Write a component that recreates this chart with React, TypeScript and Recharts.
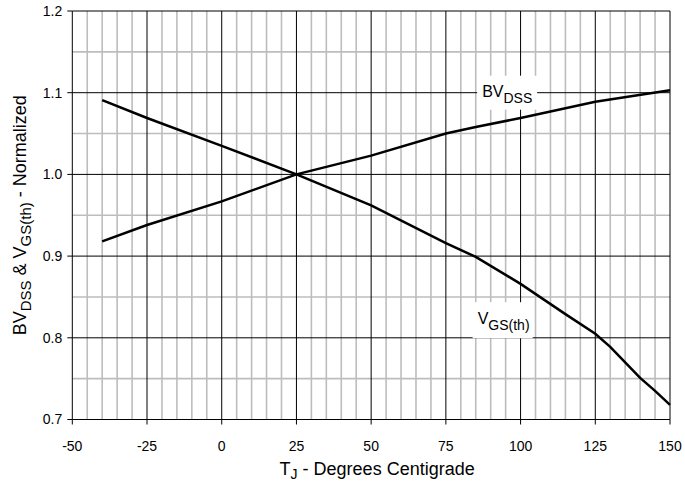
import React from "react";
import {
  LineChart,
  Line,
  XAxis,
  YAxis,
  ReferenceLine,
  ReferenceDot,
  Label,
} from "recharts";

// Normalized breakdown voltage vs junction temperature (°C)
const bvTemps = [-40, -25, 0, 25, 50, 75, 85, 100, 125, 150];
const bvdss = [0.918, 0.938, 0.967, 1.0, 1.023, 1.05, 1.058, 1.069, 1.089, 1.103];
// Normalized gate threshold voltage vs junction temperature (°C)
const vgTemps = [-40, -25, 0, 25, 50, 75, 85, 100, 115, 125, 130, 135, 140, 145, 150];
const vgsth = [1.091, 1.069, 1.035, 1.0, 0.962, 0.916, 0.899, 0.866, 0.829, 0.805, 0.789, 0.77, 0.751, 0.735, 0.718];

const xTicks = [-50, -25, 0, 25, 50, 75, 100, 125, 150];
const yTicks = [0.7, 0.8, 0.9, 1.0, 1.1, 1.2];
const xMinor = [-45, -40, -35, -30, -20, -15, -10, -5, 5, 10, 15, 20, 30, 35, 40, 45, 55, 60, 65, 70, 80, 85, 90, 95, 105, 110, 115, 120, 130, 135, 140, 145];
const yMinor = [0.75, 0.85, 0.95, 1.05, 1.15];
const xMajor = [-25, 0, 25, 50, 75, 100, 125];
const yMajor = [0.8, 0.9, 1.0, 1.1];

const bvData = bvTemps.map((t, i) => ({ t, v: bvdss[i] }));
const vgData = vgTemps.map((t, i) => ({ t, v: vgsth[i] }));

const FONT = "'Liberation Sans', Arial, sans-serif";

// white-backed curve label with a subscript
const tag = (main: string, sub: string, w: number, h: number) => (props: any) => {
  const { cx, cy } = props;
  return (
    <g>
      <rect x={cx - w / 2} y={cy - h / 2} width={w} height={h} fill="#fff" />
      <text x={cx - w / 2 + 5} y={cy + 4} fontFamily={FONT} fontSize={16} fill="#000">
        {main}
        <tspan fontSize={14} dy={6}>{sub}</tspan>
      </text>
    </g>
  );
};

const YTitle = (props: any) => {
  const { viewBox } = props;
  const cy = viewBox.y + viewBox.height / 2;
  return (
    <text
      x={26}
      y={cy}
      transform={`rotate(-90, 26, ${cy})`}
      textAnchor="middle"
      fontFamily={FONT}
      fontSize={18}
      fill="#000"
    >
      BV<tspan fontSize={15} dy={5}>DSS</tspan>
      <tspan dy={-5}> &amp; V</tspan>
      <tspan fontSize={15} dy={5}>GS(th)</tspan>
      <tspan dy={-5}> - Normalized</tspan>
    </text>
  );
};

const XTitle = (props: any) => {
  const { viewBox } = props;
  const cx = viewBox.x + viewBox.width / 2 + 6;
  return (
    <text x={cx} y={475} textAnchor="middle" fontFamily={FONT} fontSize={18} fill="#000">
      T<tspan fontSize={14} dy={4}>J</tspan>
      <tspan dy={-4}> - Degrees Centigrade</tspan>
    </text>
  );
};

export default function App() {
  return (
    <div style={{ position: "absolute", left: 0, top: 0, background: "#fff" }}>
      <LineChart
        width={685}
        height={484}
        margin={{ top: 11, right: 15, bottom: 0, left: 0 }}
      >
        <XAxis
          type="number"
          dataKey="t"
          domain={[-50, 150]}
          ticks={xTicks}
          interval={0}
          height={64.5}
          stroke="#000"
          tickSize={5}
          tickMargin={17}
          tick={{ fill: "#000", fontSize: 14, fontFamily: FONT }}
          allowDuplicatedCategory={false}
        >
          <Label content={<XTitle />} />
        </XAxis>
        <YAxis
          type="number"
          domain={[0.7, 1.2]}
          ticks={yTicks}
          interval={0}
          width={72.3}
          stroke="#000"
          tickSize={5}
          tickMargin={5}
          tickFormatter={(v: number) => v.toFixed(1)}
          tick={{ fill: "#000", fontSize: 14, fontFamily: FONT }}
        >
          <Label content={<YTitle />} />
        </YAxis>

        {xMinor.map((v) => (
          <ReferenceLine key={`xm${v}`} x={v} stroke="#bdbdbd" strokeWidth={1.6} />
        ))}
        {yMinor.map((v) => (
          <ReferenceLine key={`ym${v}`} y={v} stroke="#bdbdbd" strokeWidth={1.6} />
        ))}
        {xMajor.map((v) => (
          <ReferenceLine key={`xM${v}`} x={v} stroke="#000" strokeWidth={1} />
        ))}
        {yMajor.map((v) => (
          <ReferenceLine key={`yM${v}`} y={v} stroke="#000" strokeWidth={1} />
        ))}
        <ReferenceLine x={150} stroke="#000" strokeWidth={1} />
        <ReferenceLine y={1.2} stroke="#000" strokeWidth={1} />

        <Line
          data={bvData}
          dataKey="v"
          type="linear"
          stroke="#000"
          strokeWidth={2.5}
          dot={false}
          isAnimationActive={false}
        />
        <Line
          data={vgData}
          dataKey="v"
          type="linear"
          stroke="#000"
          strokeWidth={2.5}
          dot={false}
          isAnimationActive={false}
        />

        <ReferenceDot x={95.5} y={1.1} r={0} shape={tag("BV", "DSS", 60, 34)} />
        <ReferenceDot x={94} y={0.8215} r={0} shape={tag("V", "GS(th)", 60, 36)} />
      </LineChart>
    </div>
  );
}
